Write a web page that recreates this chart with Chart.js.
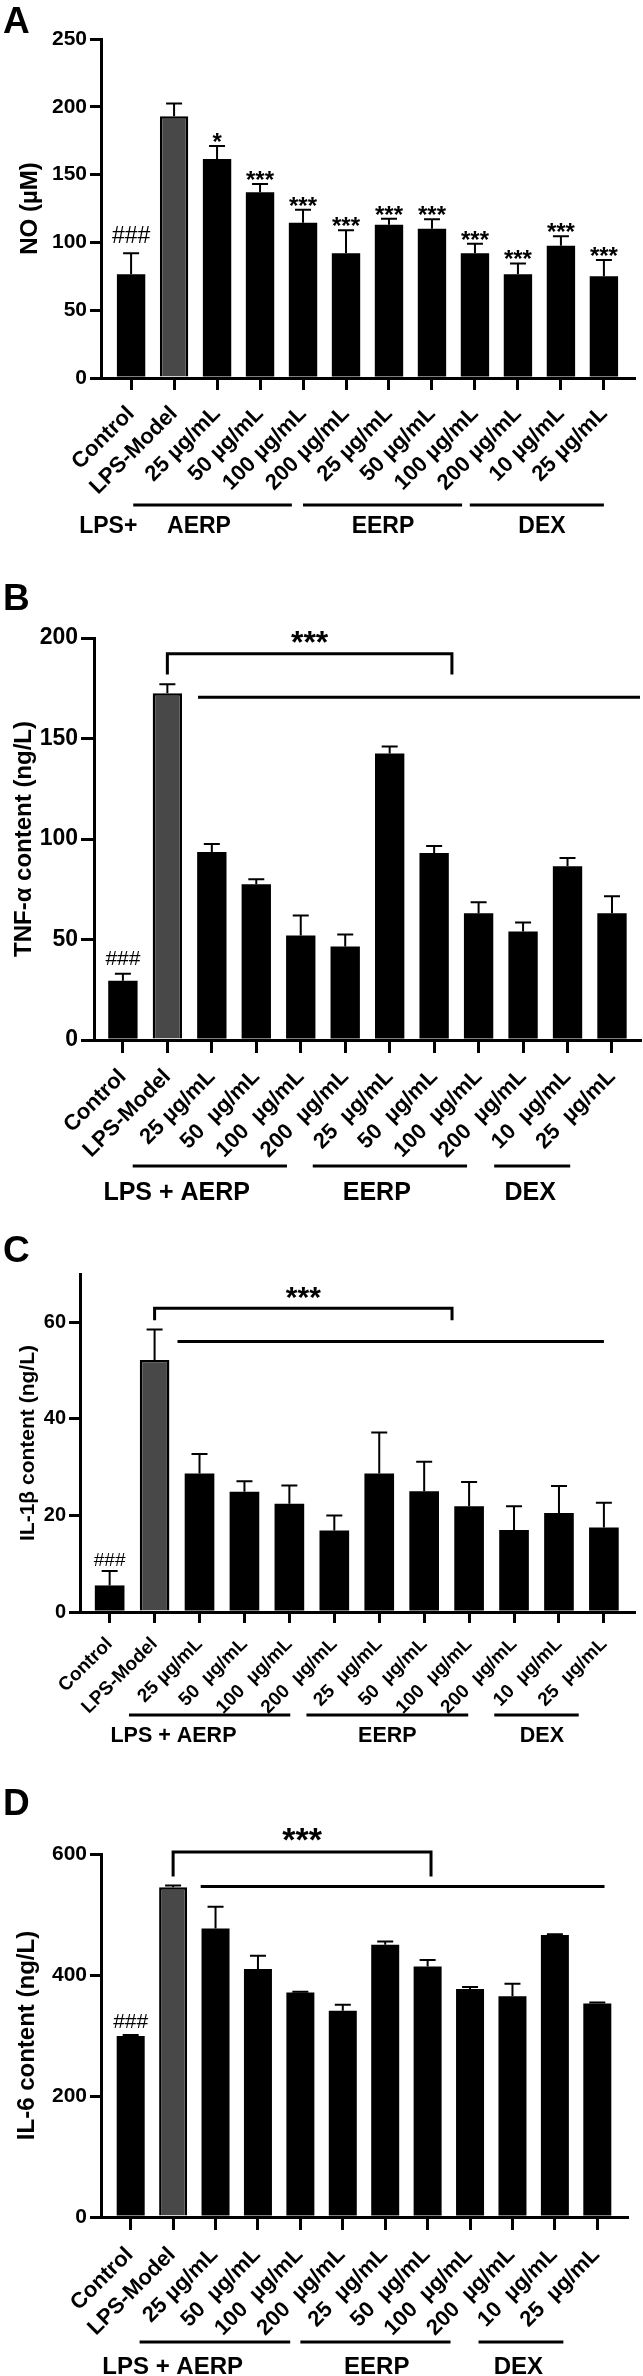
<!DOCTYPE html>
<html>
<head>
<meta charset="utf-8">
<script src="https://cdn.jsdelivr.net/npm/chart.js@4.4.0/dist/chart.umd.min.js"></script>
<style>
  html, body { margin: 0; padding: 0; background: #fff; }
  #wrap { position: relative; width: 643px; height: 2376px; }
  canvas { position: absolute; left: 0; }
</style>
</head>
<body>
<div id="wrap">
  <canvas id="chartA" width="643" height="560" style="top:0px"></canvas>
  <canvas id="chartB" width="643" height="655" style="top:560px"></canvas>
  <canvas id="chartC" width="643" height="555" style="top:1215px"></canvas>
  <canvas id="chartD" width="643" height="606" style="top:1770px"></canvas>
</div>
<script>
// --- data ---
const labelsNO = ['Control', 'LPS-Model', '25 µg/mL', '50 µg/mL', '100 µg/mL', '200 µg/mL',
  '25 µg/mL', '50 µg/mL', '100 µg/mL', '200 µg/mL', '10 µg/mL', '25 µg/mL'];
const labelsCyto = ['Control', 'LPS-Model', '25 µg/mL', '50  µg/mL', '100  µg/mL', '200  µg/mL',
  '25  µg/mL', '50  µg/mL', '100  µg/mL', '200  µg/mL', '10  µg/mL', '25  µg/mL'];

const noMean = [76.5, 193, 161.5, 137, 114.5, 92, 113, 110, 92, 76.5, 97.5, 75];
const noSd = [15.5, 9.5, 9.5, 6, 9.5, 17, 4.5, 7, 7, 8, 7, 12];
const noMarks = ['###', '', '*', '***', '***', '***', '***', '***', '***', '***', '***', '***'];

const tnfMean = [29.5, 172.5, 93.5, 77.5, 52, 46.5, 142.5, 93, 63, 54, 86.5, 63];
const tnfSd = [3.5, 4.5, 4, 2.5, 10, 6, 3.5, 3.5, 5.5, 4.5, 4, 8.5];

const il1bMean = [5.5, 52.2, 28.7, 24.9, 22.4, 16.9, 28.7, 25, 21.9, 17, 20.5, 17.5];
const il1bSd = [3, 6.3, 4, 2.2, 3.8, 3.1, 8.5, 6.1, 5, 4.9, 5.6, 5.1];

const il6Mean = [299, 545, 477, 410, 371, 341, 450, 414, 377, 365, 466, 353];
const il6Sd = [2, 3, 36, 22, 1.5, 10, 5.5, 11, 3, 20.5, 1.5, 1.5];

const cytoMarks = ['###', '', '', '', '', '', '', '', '', '', '', ''];

// group captions under the axis (x in category units)
const groupNamesA = ['LPS+', 'AERP', 'EERP', 'DEX'];
const groupNamesBCD = ['LPS + AERP', 'EERP', 'DEX'];

const FONT = "'Liberation Sans', Arial, Helvetica, sans-serif";
Chart.defaults.font.family = FONT;
Chart.defaults.font.weight = 'bold';
Chart.defaults.color = '#000';

const annotPlugin = p => ({
  id: 'annot',
  afterDraw(chart) {
    const { ctx, chartArea } = chart;
    const xs = chart.scales.x;
    const ys = chart.scales.y;
    ctx.save();
    ctx.strokeStyle = '#000';
    ctx.fillStyle = '#000';
    ctx.textAlign = 'center';
    ctx.textBaseline = 'alphabetic';

    // error bars + marks
    ctx.lineWidth = 2;
    p.means.forEach((m, i) => {
      const x = xs.getPixelForValue(i);
      const yb = ys.getPixelForValue(m);
      const yt = ys.getPixelForValue(m + p.sd[i]);
      ctx.beginPath();
      ctx.moveTo(x, yb);
      ctx.lineTo(x, yt);
      ctx.moveTo(x - 8, yt);
      ctx.lineTo(x + 8, yt);
      ctx.stroke();
      const mark = p.marks[i];
      if (mark) {
        const hash = mark[0] === '#';
        ctx.font = (hash ? 'normal ' : 'bold ') + (hash ? p.hashFont : p.starFont) + 'px ' + FONT;
        ctx.fillText(mark, x, yt - (hash ? p.hashGap : p.starGap));
      }
    });

    // bracket
    if (p.bracket) {
      const b = p.bracket;
      const xa = xs.getPixelForValue(b.from);
      const xb = xs.getPixelForValue(b.to);
      const yTop = ys.getPixelForValue(b.top);
      const yLeg = ys.getPixelForValue(b.leg);
      ctx.lineWidth = 3;
      ctx.beginPath();
      ctx.moveTo(xa, yLeg);
      ctx.lineTo(xa, yTop);
      ctx.lineTo(xb, yTop);
      ctx.lineTo(xb, yLeg);
      ctx.stroke();
      ctx.beginPath();
      const yl = ys.getPixelForValue(b.line);
      ctx.moveTo(xs.getPixelForValue(b.lineFrom), yl);
      ctx.lineTo(xs.getPixelForValue(b.lineTo), yl);
      ctx.stroke();
      ctx.font = 'bold ' + p.bracketFont + 'px ' + FONT;
      ctx.fillText('***', (xa + xb) / 2, yTop - 1);
    }

    // group lines and names
    ctx.lineWidth = 3;
    p.groupLines.forEach(([a, b]) => {
      const y = chartArea.bottom + p.lineOff;
      ctx.beginPath();
      ctx.moveTo(xs.getPixelForValue(a), y);
      ctx.lineTo(xs.getPixelForValue(b), y);
      ctx.stroke();
    });
    ctx.font = 'bold ' + p.groupFont + 'px ' + FONT;
    ctx.textBaseline = 'middle';
    p.groupNames.forEach((name, i) => {
      ctx.fillText(name, xs.getPixelForValue(p.groupX[i]), chartArea.bottom + p.textOff);
    });

    // panel letter
    ctx.textAlign = 'left';
    ctx.textBaseline = 'alphabetic';
    ctx.font = 'bold 37px ' + FONT;
    ctx.fillText(p.letter, 3, p.letterY);
    ctx.restore();
  },
});

const makeChart = (id, p) => new Chart(document.getElementById(id), {
  type: 'bar',
  data: {
    datasets: [{
      data: p.means.map((v, i) => ({ x: i, y: v })),
      backgroundColor: p.means.map((v, i) => (i === 1 ? '#484848' : '#000')),
      borderColor: '#000',
      borderWidth: p.means.map((v, i) => (i === 1 ? 2.5 : 0)),
      borderSkipped: 'bottom',
      barPercentage: 0.66,
      categoryPercentage: 1,
    }],
  },
  options: {
    responsive: false,
    animation: false,
    events: [],
    layout: { padding: { top: p.top, right: p.right, left: 0, bottom: 0 } },
    plugins: { legend: { display: false }, tooltip: { enabled: false } },
    scales: {
      x: {
        type: 'linear',
        min: p.xMin,
        max: p.xMax,
        offset: false,
        afterFit: s => {
          s.height = p.xHeight;
          s.paddingLeft = 0;
          s.paddingRight = 0;
        },
        border: { color: '#000', width: 3 },
        grid: { offset: false, drawOnChartArea: false, tickLength: p.xTick, lineWidth: 3, color: '#000' },
        ticks: {
          stepSize: 1,
          includeBounds: false,
          autoSkip: false,
          minRotation: 45,
          maxRotation: 45,
          padding: p.labelPad,
          labelOffset: p.labelShift,
          font: { size: p.xFont, weight: 'bold' },
          callback: v => p.labels[Math.round(v)] ?? '',
        },
      },
      y: {
        min: 0,
        max: p.yMax,
        afterFit: s => {
          s.width = p.left;
          s.paddingTop = 0;
          s.paddingBottom = 0;
        },
        border: { color: '#000', width: 3 },
        grid: { drawOnChartArea: false, tickLength: p.yTick, lineWidth: 3, color: '#000' },
        ticks: { stepSize: p.yStep, includeBounds: false, padding: 3, font: { size: p.yFont, weight: 'bold' } },
        title: {
          display: true,
          text: p.title,
          padding: { top: p.titlePad, bottom: 0 },
          font: { size: p.titleFont, weight: 'bold' },
        },
      },
    },
  },
  plugins: [annotPlugin(p)],
});

makeChart('chartA', {
  labels: labelsNO, means: noMean, sd: noSd, marks: noMarks,
  top: 39, right: 9, left: 101, xHeight: 182, xMin: -0.7, xMax: 11.7,
  yMax: 250, yStep: 50, yFont: 21, xFont: 22, yTick: 11, xTick: 12, labelPad: 11, labelShift: 0,
  title: 'NO (µM)', titleFont: 24, titlePad: 16,
  starFont: 24, starGap: -4, hashFont: 23, hashGap: 10,
  groupNames: groupNamesA, groupX: [-0.53, 1.58, 5.86, 9.56],
  groupLines: [[0.05, 3.74], [4.0, 7.7], [7.88, 11.0]],
  groupFont: 23, lineOff: 127, textOff: 149,
  letter: 'A', letterY: 33,
});

makeChart('chartB', {
  labels: labelsCyto, means: tnfMean, sd: tnfSd, marks: cytoMarks,
  top: 78, right: 3, left: 94, xHeight: 175, xMin: -0.65, xMax: 11.63,
  yMax: 200, yStep: 50, yFont: 23, xFont: 22, yTick: 13, xTick: 13, labelPad: 11, labelShift: 0,
  title: 'TNF-α content (ng/L)', titleFont: 24, titlePad: 10,
  starFont: 24, starGap: -4, hashFont: 21, hashGap: 9,
  bracket: { from: 1, to: 7.4, top: 192.2, leg: 181.8, line: 170.5, lineFrom: 1.69, lineTo: 11.63 },
  bracketFont: 32,
  groupNames: groupNamesBCD, groupX: [1.21, 5.71, 9.16],
  groupLines: [[0.22, 3.69], [4.27, 7.74], [8.35, 10.06]],
  groupFont: 25, lineOff: 126, textOff: 153,
  letter: 'B', letterY: 50,
});

makeChart('chartC', {
  labels: labelsCyto, means: il1bMean, sd: il1bSd, marks: cytoMarks,
  top: 59, right: 9, left: 80, xHeight: 158, xMin: -0.66, xMax: 11.67,
  yMax: 70, yStep: 20, yFont: 20, xFont: 19, yTick: 11, xTick: 11, labelPad: 10, labelShift: 0,
  title: 'IL-1β content (ng/L)', titleFont: 21, titlePad: 16,
  starFont: 24, starGap: -4, hashFont: 19, hashGap: 5,
  bracket: { from: 1, to: 7.62, top: 62.9, leg: 60.4, line: 56, lineFrom: 1.51, lineTo: 11.0 },
  bracketFont: 30,
  groupNames: groupNamesBCD, groupX: [1.42, 6.18, 9.62],
  groupLines: [[0.43, 4.02], [4.38, 7.98], [8.56, 10.44]],
  groupFont: 21.5, lineOff: 103, textOff: 124,
  letter: 'C', letterY: 47,
});

makeChart('chartD', {
  labels: labelsCyto, means: il6Mean, sd: il6Sd, marks: cytoMarks,
  top: 84, right: 16, left: 101, xHeight: 159, xMin: -0.7, xMax: 11.7,
  yMax: 600, yStep: 200, yFont: 21, xFont: 22, yTick: 11, xTick: 13, labelPad: 12, labelShift: -1,
  title: 'IL-6 content (ng/L)', titleFont: 24, titlePad: 13,
  starFont: 24, starGap: -4, hashFont: 21, hashGap: 6.5,
  bracket: { from: 1, to: 7.08, top: 603.3, leg: 563, line: 546.4, lineFrom: 1.65, lineTo: 11.17 },
  bracketFont: 34,
  groupNames: groupNamesBCD, groupX: [0.99, 5.8, 9.14],
  groupLines: [[0.21, 3.76], [4.0, 7.54], [8.2, 10.2]],
  groupFont: 24, lineOff: 125, textOff: 150,
  letter: 'D', letterY: 45,
});
</script>
</body>
</html>
